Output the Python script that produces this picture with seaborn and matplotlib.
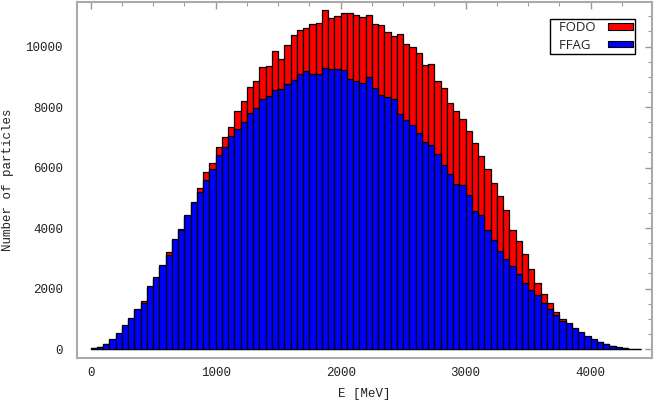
import numpy as np
import pandas as pd
import seaborn as sns
import matplotlib.pyplot as plt
from matplotlib.patches import Patch
from matplotlib.ticker import MultipleLocator

# 50 MeV bins from 0 to 4400 MeV
bin_width = 50
energy = np.arange(88) * bin_width + bin_width / 2

ffag = [25, 70, 170, 330, 515, 785, 1015, 1325, 1525, 2080,
        2370, 2770, 3120, 3635, 3940, 4420, 4865, 5200, 5590, 5940,
        6400, 6680, 7030, 7260, 7490, 7810, 7975, 8260, 8360, 8560,
        8580, 8750, 8890, 9090, 9180, 9080, 9100, 9290, 9270, 9260,
        9220, 8930, 8860, 8790, 8980, 8620, 8390, 8340, 8270, 7780,
        7570, 7390, 7130, 6840, 6750, 6450, 6090, 5800, 5440, 5435,
        5085, 4555, 4415, 3940, 3615, 3225, 2970, 2760, 2470, 2175,
        1950, 1790, 1535, 1330, 1140, 930, 855, 680, 550, 425,
        320, 245, 175, 110, 55, 28, 15, 8]

fodo = [20, 60, 150, 300, 480, 740, 980, 1290, 1590, 2020,
        2320, 2720, 3220, 3600, 3975, 4380, 4830, 5310, 5860, 6160,
        6690, 7010, 7330, 7880, 8210, 8660, 8870, 9310, 9370, 9850,
        9580, 10050, 10380, 10550, 10620, 10730, 10770, 11200, 10930, 11010,
        11100, 11100, 11040, 10990, 11030, 10730, 10700, 10470, 10350, 10410,
        10070, 9970, 9770, 9380, 9410, 8860, 8640, 8120, 7860, 7620,
        7205, 6800, 6375, 5940, 5485, 5045, 4590, 3935, 3580, 3130,
        2630, 2170, 1805, 1510, 1220, 995, 820, 640, 510, 390,
        290, 220, 150, 90, 40, 20, 10, 5]

df = pd.DataFrame({'E': energy, 'FFAG': ffag, 'FODO': fodo})

sns.set_style('white')
plt.rcParams['font.family'] = ['Liberation Mono', 'DejaVu Sans Mono']

fig = plt.figure(figsize=(6.54, 4.03), dpi=100)
ax = fig.add_axes([0.1177, 0.1129, 0.879, 0.882])

sns.histplot(data=df, x='E', weights='FODO', binwidth=bin_width, binrange=(0, 4400),
             color='#ff0000', alpha=1, edgecolor='black', linewidth=0.9, ax=ax)
sns.histplot(data=df, x='E', weights='FFAG', binwidth=bin_width, binrange=(0, 4400),
             color='#0000ff', alpha=1, edgecolor='black', linewidth=0.9, ax=ax)

ax.set_xlim(-110, 4490)
ax.set_ylim(-280, 11470)
ax.xaxis.set_major_locator(MultipleLocator(1000))
ax.xaxis.set_minor_locator(MultipleLocator(250))
ax.yaxis.set_major_locator(MultipleLocator(2000))
ax.yaxis.set_minor_locator(MultipleLocator(500))
ax.tick_params(which='both', direction='in', top=True, right=True,
               color='#999999', labelsize=9, labelcolor='#222222')
ax.tick_params(which='major', length=5, width=1)
ax.tick_params(which='minor', length=3, width=0.8)
ax.tick_params(axis='y', pad=10)
ax.tick_params(axis='x', pad=7)
for s in ax.spines.values():
    s.set_color('#aaaaaa')
    s.set_linewidth(1.5)

ax.set_xlabel('E [MeV]', fontsize=9, color='#222222', labelpad=6)
ax.set_ylabel('Number of particles', fontsize=9, color='#222222', labelpad=8)

handles = [Patch(facecolor='#ff0000', edgecolor='black', linewidth=0.8, label='  FODO'),
           Patch(facecolor='#0000ff', edgecolor='black', linewidth=0.8, label='  FFAG')]
leg = ax.legend(handles=handles, loc='upper right', bbox_to_anchor=(0.9704, 0.952),
                markerfirst=False, prop={'family': 'Open Sans', 'size': 9.5},
                fancybox=False, frameon=True, edgecolor='black', framealpha=1,
                handlelength=1.9, handleheight=0.4, handletextpad=0.95,
                labelspacing=0.35, borderpad=0.15, borderaxespad=0)
leg.get_frame().set_linewidth(1.0)
for t in leg.get_texts():
    t.set_color('#222222')

# left-align the labels while keeping the colour boxes lined up on the right
fig.canvas.draw()
renderer = fig.canvas.get_renderer()
widths = [t.get_window_extent(renderer).width for t in leg.get_texts()]
col = leg._legend_handle_box.get_children()[0]
col.align = 'left'
for row, w in zip(col.get_children(), widths):
    row.sep += (max(widths) - w) / renderer.points_to_pixels(1.0)

plt.savefig('out.png', dpi=100)
